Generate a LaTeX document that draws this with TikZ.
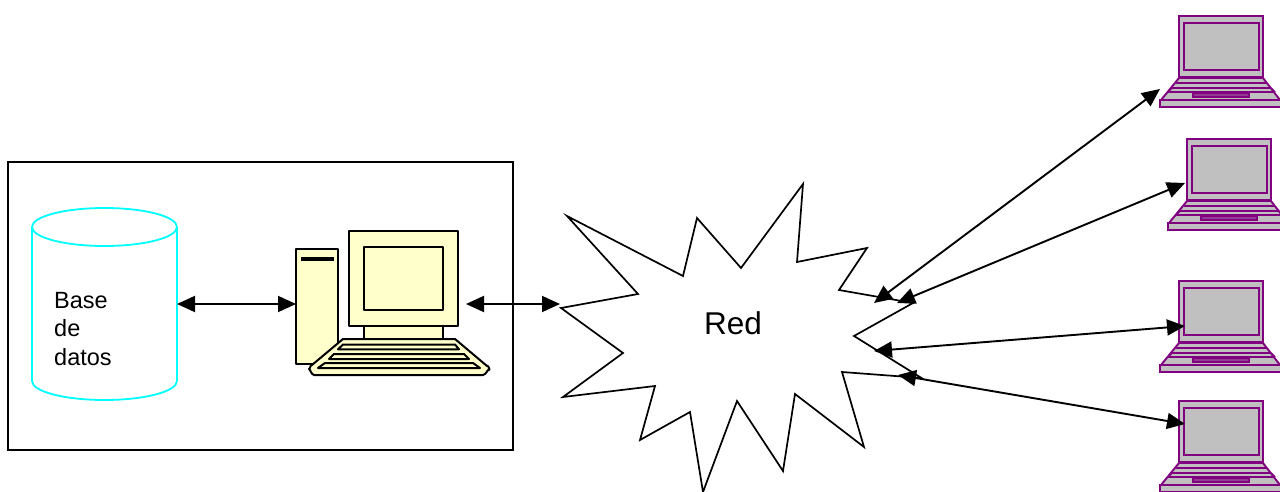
\documentclass[tikz,border=0pt]{standalone}
\usepackage{fontspec}
\setmainfont{Liberation Sans}
\usetikzlibrary{arrows.meta}
\definecolor{lapv}{HTML}{800080}
\definecolor{lapg}{HTML}{C0C0C0}
\definecolor{pcy}{HTML}{FFFFCC}
\definecolor{dbc}{HTML}{00FFFF}
\tikzset{
  x=1pt,y=-1pt,
  link/.style={line width=1.9pt,{Triangle[length=18pt,width=16pt]}-{Triangle[length=18pt,width=16pt]}},
  pc/.style={draw=black,fill=pcy,line width=2pt,line join=round},
  lap/.style={draw=lapv,fill=lapg,line width=1.9pt,line join=miter},
  lbl/.style={font=\fontsize{23.5}{28}\selectfont,anchor=base west,inner sep=0pt},
  laptop/.pic={
    \path[lap] (0,0) rectangle (84,61);
    \path[lap] (5,7) rectangle (80,54);
    \path[lap] (0,62) -- (84,62) -- (101,84) -- (-18,84) -- cycle;
    \path[lap] (-19,84) rectangle (102,91);
    \draw[lapv,line width=1.9pt] (-3,67) -- (88,67) (-7,72) -- (92,72) (-11,76) -- (96,76);
    \draw[lapv,line width=1.5pt] (-7,72) -- (-11,76) (92,72) -- (96,76);
    \path[draw=lapv,fill=lapv!70!lapg,line width=1.5pt] (14,77) rectangle (70,81);
  }
}
\begin{document}
\begin{tikzpicture}
\useasboundingbox (0,0) rectangle (1280,492);
% server box
\node[draw=black,line width=1.6pt,minimum width=505pt,minimum height=288pt,inner sep=0pt] (frame) at (260.5,306) {};
% database
\path[draw=dbc,line width=1.8pt,fill=white] (32,227) -- (32,381) arc[start angle=180,end angle=0,x radius=72.5,y radius=19] -- (177,227);
\path[draw=dbc,line width=1.8pt] (104.5,227) ellipse[x radius=72.5,y radius=19];
\coordinate (dbport) at (177,304);
\node[lbl] (t1) at (54,308) {Base};
\node[lbl] (t2) at (54,336) {de};
\node[lbl] (t3) at (54,365) {datos};
% computer
\path[pc] (296,249) rectangle (338,364);
\draw[line width=4pt,line cap=butt] (301,259) -- (334,259);
\path[pc] (364,326) rectangle (443,340);
\path[pc] (349,231) rectangle (458,326);
\path[pc] (364,247) rectangle (443,310);
\path[pc] (343,339) -- (455,339) -- (487,366) to[out=80,in=0,looseness=1] (489,370) to[out=90,in=0] (483,375) -- (314,375) to[out=180,in=90] (309,369) to[out=-80,in=180] (312,365) -- cycle;
\path[pc] (343,344.5) -- (455,344.5) -- (459,349.3) -- (338,349.3) -- cycle;
\path[pc] (334,354) -- (464,354) -- (469,359) -- (329,359) -- cycle;
\path[pc] (325,363) -- (473,363) -- (480,368) -- (318,368) -- cycle;
\coordinate (pcin) at (296,304);
\coordinate (pcout) at (466,304);
% network
\path[draw=black,line width=1.7pt,fill=white,line join=miter]
 (567,216) -- (683,276) -- (697,218) -- (741,268) -- (803,184) -- (797,262) -- (867,248) -- (839,290) -- (913,303) -- (854,336) -- (921.5,378) -- (842,372) -- (864,447) -- (795,394) -- (783,471) -- (737,401) -- (703,492) -- (690,412) -- (640,440) -- (655,386) -- (563,397) -- (623,353) -- (561,308) -- (638,294) -- cycle;
\node[font=\fontsize{31.5}{36}\selectfont,inner sep=0pt] (red) at (733,323) {Red};
\coordinate (n0) at (560,304);
\coordinate (n1) at (874,303);
\coordinate (n2) at (897,303);
\coordinate (n3) at (874,351);
\coordinate (n4) at (898,375);
% laptops
\pic at (1179,16) {laptop};
\pic at (1187,139) {laptop};
\pic at (1179,281) {laptop};
\pic at (1179,401) {laptop};
\coordinate (l1) at (1160,89);
\coordinate (l2) at (1185,183);
\coordinate (l3) at (1185,326);
\coordinate (l4) at (1185,424);
% links
\draw[link] (dbport) -- (pcin);
\draw[link] (pcout) -- (n0);
\draw[link] (l1) -- (n1);
\draw[link] (l2) -- (n2);
\draw[link] (l3) -- (n3);
\draw[link] (l4) -- (n4);
\end{tikzpicture}
\end{document}
